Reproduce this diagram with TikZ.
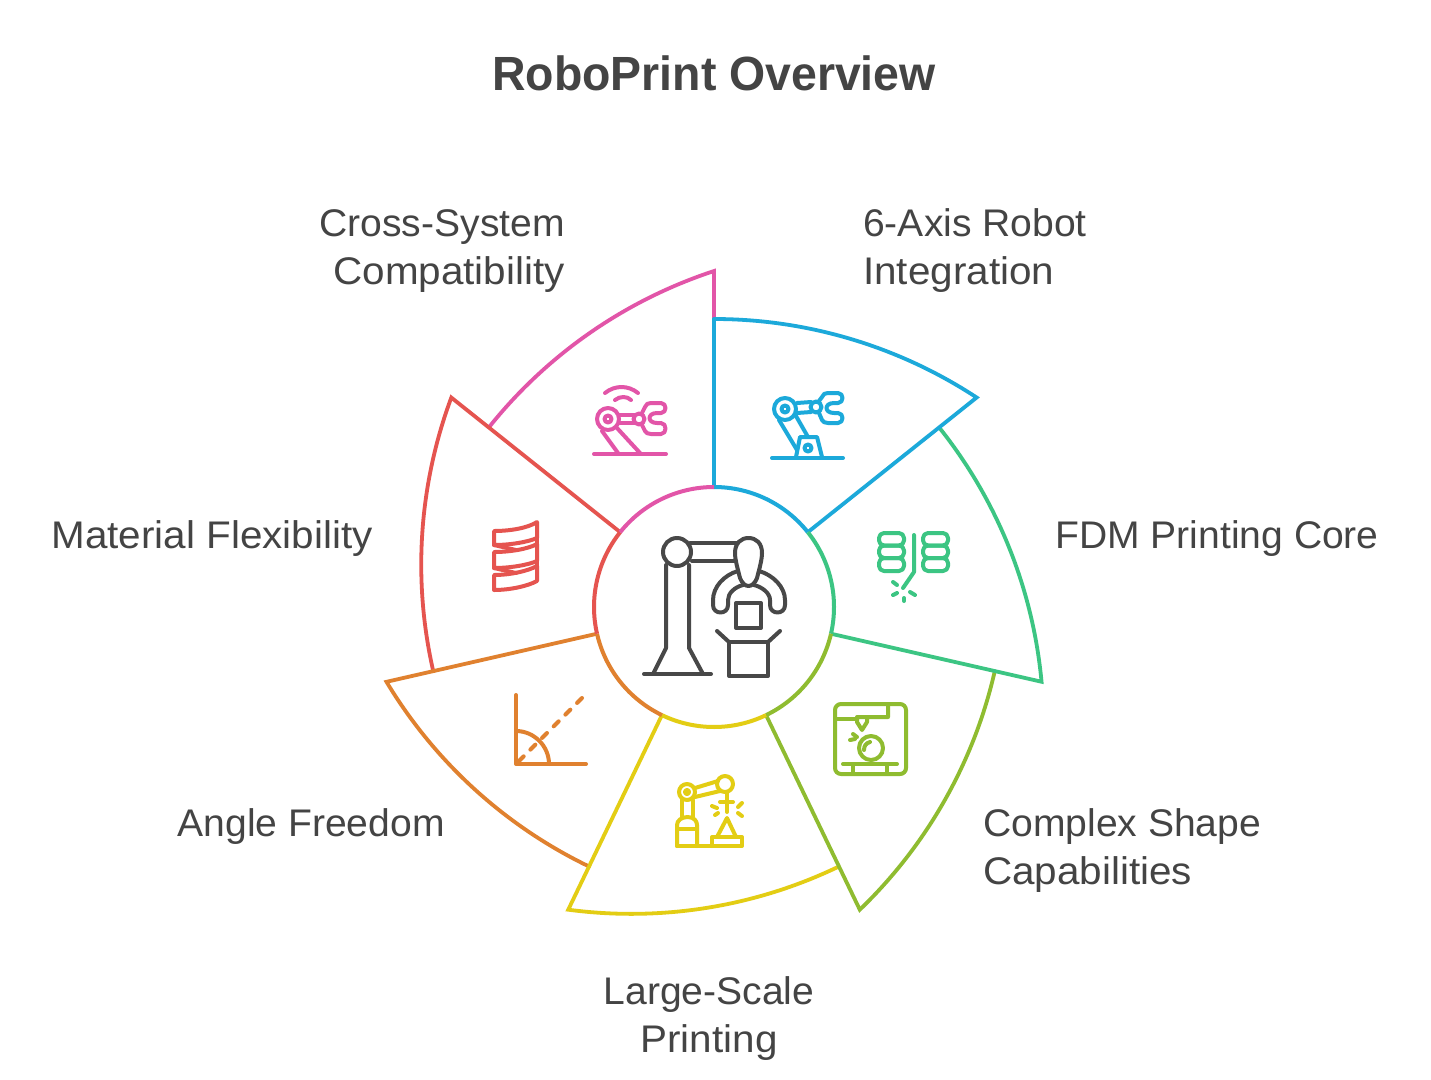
\documentclass[tikz,border=0pt]{standalone}
\usepackage{fontspec}
\setmainfont{Liberation Sans}
\newfontfamily\lblfont[FakeStretch=1.05]{Liberation Sans}
\newfontfamily\lblnarrow[FakeStretch=1.015]{Liberation Sans}
\newfontfamily\ttlfont[FakeStretch=0.967]{Liberation Sans}
\definecolor{cblue}{HTML}{1CA9DA}
\definecolor{cgreen}{HTML}{3CC583}
\definecolor{colive}{HTML}{8FBC30}
\definecolor{cyellow}{HTML}{E3CD14}
\definecolor{corange}{HTML}{E0812F}
\definecolor{cred}{HTML}{E5544F}
\definecolor{cpink}{HTML}{E255A8}
\definecolor{ctext}{HTML}{444444}
\definecolor{cicon}{HTML}{484848}
\tikzset{
  lbl/.style={text=ctext,font=\lblfont\fontsize{38.5}{48}\selectfont,inner sep=0pt},
  titlelbl/.style={text=ctext,font=\ttlfont\fontsize{48}{56}\selectfont\bfseries,inner sep=0pt},
  seg/.style={line width=3.8pt,line join=miter,line cap=round},
  ring/.style={line width=4pt},
  icon/.style={line width=4pt,line join=round,line cap=round},
}
\newcommand{\petal}[2]{%
  \begin{scope}[shift={(714,607)},x=1pt,y=1pt,rotate=#1]
    \draw[seg,#2] (90:288) arc[start angle=90,delta angle=-33.27,radius=478.8] -- (38.57:120);
  \end{scope}}
\newcommand{\ringarc}[3]{%
  \begin{scope}[shift={(714,607)},x=1pt,y=1pt]
    \draw[ring,#3] (#1:120) arc[start angle=#1,end angle=#2,radius=120];
  \end{scope}}
\begin{document}
\begin{tikzpicture}[x=1pt,y=-1pt]
\useasboundingbox (0,0) rectangle (1431,1079);
\fill[white] (0,0) rectangle (1431,1079);

% petals
\petal{-308.57}{cpink}
\petal{-257.14}{cred}
\petal{-205.71}{corange}
\petal{-154.29}{cyellow}
\petal{-102.86}{colive}
\petal{-51.43}{cgreen}
\petal{0}{cblue}
\draw[seg,cblue] (714,487) -- (714,319);
% ring
\fill[white] (714,607) circle[radius=120];
\ringarc{90}{38.57}{cblue}
\ringarc{38.57}{-12.86}{cgreen}
\ringarc{-12.86}{-64.29}{colive}
\ringarc{-64.29}{-115.71}{cyellow}
\ringarc{-115.71}{-167.14}{corange}
\ringarc{-167.14}{-218.57}{cred}
\ringarc{-218.57}{-270}{cpink}

% title
\node[titlelbl,anchor=center] (title) at (714,73) {RoboPrint Overview};

% labels
\node[lbl,align=right,anchor=east] (lcross) at (565,251) {{\lblnarrow Cross-System}\\Compatibility};
\node[lbl,align=left,anchor=west] (laxis) at (863,251) {{\lblnarrow 6-Axis Robot}\\Integration};
\node[lbl,anchor=east] (lmat) at (373,539) {Material Flexibility};
\node[lbl,anchor=west] (lfdm) at (1055,539) {{\lblnarrow FDM Printing Core}};
\node[lbl,anchor=east] (langle) at (445,827) {{\lblnarrow Angle Freedom}};
\node[lbl,align=left,anchor=west] (lcomplex) at (983,851) {{\lblnarrow Complex Shape}\\Capabilities};
\node[lbl,align=center,anchor=center] (llarge) at (709,1019) {{\lblnarrow Large-Scale}\\Printing};

% centre icon
\begin{scope}[icon,cicon,line width=4pt]
  \draw (677,552) circle[radius=14];
  \draw (690,543) -- (738,543);
  \draw (692,561) -- (736,561);
  \draw (666,565) -- (666,648) -- (653,674);
  \draw (689,565) -- (689,648) -- (703,674);
  \draw (644,674) -- (711,674);
  \draw (735,553) .. controls (735,543) and (741,538) .. (748.5,538)
        .. controls (756,538) and (762,543) .. (762,553)
        .. controls (762,560) and (759,570) .. (757,578)
        .. controls (755,583) and (752,586) .. (748.5,586)
        .. controls (745,586) and (742,583) .. (740,578)
        .. controls (738,570) and (735,560) .. (735,553) -- cycle;
  \draw (738,571) .. controls (724,575) and (713,587) .. (713,600)
        -- (713,605) .. controls (713,615) and (728,615) .. (728,605)
        -- (728,600) .. controls (728,593) and (735,587) .. (743,585);
  \draw (759,571) .. controls (773,575) and (785,587) .. (785,600)
        -- (785,605) .. controls (785,615) and (770,615) .. (770,605)
        -- (770,600) .. controls (770,593) and (762,587) .. (754,585);
  \draw (736,603) rectangle (761,628);
  \draw (729,642) rectangle (768,676);
  \draw (729,642) -- (717,631);
  \draw (768,642) -- (780,631);
\end{scope}

% pink icon
\begin{scope}[icon,cpink]
  \draw (594,454) -- (666,454);
  \draw (608,419) circle[radius=11];
  \draw (608,419) circle[radius=3.5];
  \draw (639,419) circle[radius=5.5];
  \draw (620,415) -- (634,415);
  \draw (620,423) -- (634,423);
  \draw (602,431) -- (618,453);
  \draw (617,428) -- (640,453);
  \draw (642,413) -- (645,407) .. controls (646,404) and (648,403) .. (651,403)
        -- (661,403) .. controls (667,403) and (667,413) .. (661,413)
        -- (657,413) .. controls (647,413) and (647,423) .. (657,423)
        -- (661,423) .. controls (667,423) and (667,434) .. (661,434)
        -- (651,434) .. controls (648,434) and (646,433) .. (645,431) -- (642,425);
  \draw (605,393) .. controls (615,385) and (628,385) .. (638,393);
  \draw (615,400) .. controls (620,396) and (627,396) .. (631,400);
\end{scope}

% blue icon
\begin{scope}[icon,cblue]
  \draw (772,458) -- (843,458);
  \draw (785,409) circle[radius=11];
  \draw (785,409) circle[radius=3.5];
  \draw (816,407) circle[radius=5.5];
  \draw (797,403) -- (811,402);
  \draw (797,413) -- (811,412);
  \draw (779,420) -- (797,450);
  \draw (796,416) -- (808,437);
  \draw (796,457) -- (800,437) -- (817,437) -- (822,457);
  \draw (808,448) circle[radius=3.5];
  \draw (819,401) -- (822,397) .. controls (823,394) and (825,393) .. (828,393)
        -- (838,393) .. controls (844,393) and (844,403) .. (838,403)
        -- (834,403) .. controls (824,403) and (824,413) .. (834,413)
        -- (838,413) .. controls (844,413) and (844,423) .. (838,423)
        -- (828,423) .. controls (825,423) and (823,422) .. (822,420) -- (819,413);
\end{scope}

% green icon
\begin{scope}[icon,cgreen]
  \foreach \x in {879,923} {
    \draw[rounded corners=5pt] (\x,533) rectangle (\x+25,545.5);
    \draw[rounded corners=5pt] (\x,545.5) rectangle (\x+25,558);
    \draw[rounded corners=5pt] (\x,558) rectangle (\x+25,571);
  }
  \draw (914,535) -- (914,572) -- (903,588);
  \draw (893,582) -- (897,585);
  \draw (893,595) -- (897,593);
  \draw (904,598) -- (904,601);
  \draw (910,592) -- (915,595);
\end{scope}

% olive icon
\begin{scope}[icon,colive]
  \draw[rounded corners=6pt] (835,704) rectangle (906,774);
  \draw (835,719) -- (857,719);
  \draw (888,705) -- (888,717) -- (857,717) -- (857,722) -- (862,730) -- (867,722) -- (867,717);
  \draw (871,748) circle[radius=12];
  \draw (864,750) .. controls (864,746) and (866,743) .. (870,742);
  \draw (843,764) -- (897,764);
  \draw (853,764) -- (853,773);
  \draw (887,764) -- (887,773);
  \draw (850,740) -- (855,739);
  \draw (853,734) -- (857,737);
\end{scope}

% yellow icon
\begin{scope}[icon,cyellow]
  \draw (677,846) -- (677,825) .. controls (677,821) and (681,817) .. (687.5,817)
        .. controls (694,817) and (697,821) .. (697,825) -- (697,846);
  \draw (677,829) -- (697,829);
  \draw (677,846) -- (742,846) -- (742,837) -- (712,837) -- (712,846);
  \draw (717,837) -- (727,818) -- (736,837);
  \draw (687,792) circle[radius=8];
  \draw (687,792) circle[radius=2];
  \draw (725,784) circle[radius=8];
  \draw (695,788) -- (718,781);
  \draw (695,797) -- (720,791);
  \draw (682,800) -- (682,817);
  \draw (693,800) -- (693,817);
  \draw (727,792) -- (727,812);
  \draw (720,802) -- (733,802);
  \draw (712,806) -- (717,808);
  \draw (715,815) -- (718,813);
  \draw (738,807) -- (742,803);
  \draw (738,813) -- (742,816);
\end{scope}

% orange icon
\begin{scope}[icon,corange]
  \draw (516,695) -- (516,764) -- (586,764);
  \draw (516,731) .. controls (534,731) and (549,746) .. (549,764);
  \draw[dash pattern=on 7pt off 9.5pt] (582,698) -- (516,764);
\end{scope}

% red icon
\begin{scope}[icon,cred]
  \draw (494,531) .. controls (510,531) and (528,528) .. (537,522) -- (537,538)
        .. controls (528,542) and (510,545) .. (494,545) -- cycle;
  \draw (494,552) .. controls (510,552) and (528,549) .. (537,544) -- (537,561)
        .. controls (528,565) and (510,568) .. (494,568) -- cycle;
  \draw (494,575) .. controls (510,575) and (528,571) .. (537,566) -- (537,581)
        .. controls (528,586) and (510,590) .. (494,590) -- cycle;
  \draw (494,545) -- (516,550);
  \draw (537,538) -- (537,544);
  \draw (494,568) -- (516,573);
  \draw (537,561) -- (537,566);
\end{scope}
\end{tikzpicture}
\end{document}
